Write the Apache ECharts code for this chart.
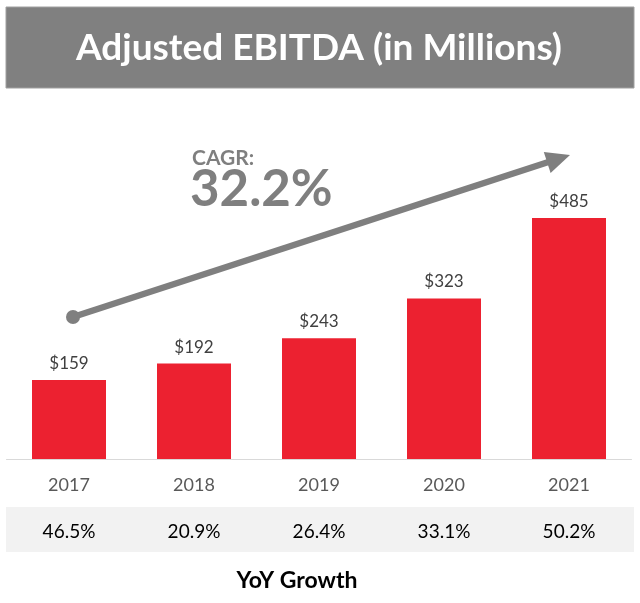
<!DOCTYPE html>
<html>
<head>
<meta charset="utf-8">
<script src="https://cdn.jsdelivr.net/npm/echarts@6/dist/echarts.min.js"></script>
<style>html,body{margin:0;padding:0;background:#fff;}#c{width:640px;height:603px;}</style>
</head>
<body>
<div id="c"></div>
<script>
var years = ['2017', '2018', '2019', '2020', '2021'];
var ebitda = [159, 192, 243, 323, 485];
var yoyGrowth = ['46.5%', '20.9%', '26.4%', '33.1%', '50.2%'];
var titleText = 'Adjusted EBITDA (in Millions)';
var cagrLabel = 'CAGR:';
var cagrValue = '32.2%';
var footerText = 'YoY Growth';

var FONT = 'Lato, "Open Sans", sans-serif';
var chart = echarts.init(document.getElementById('c'), null, {renderer: 'canvas'});

chart.setOption({
  animation: false,
  backgroundColor: '#ffffff',
  grid: {left: 6.5, right: 8.5, top: 210.5, bottom: 144, containLabel: false},
  xAxis: [
    {
      type: 'category', data: years, position: 'bottom',
      axisLine: {show: true, lineStyle: {color: '#d9d9d9', width: 1}},
      axisTick: {show: false},
      axisLabel: {color: '#595959', fontSize: 18, fontFamily: FONT, margin: 17}
    },
    {
      type: 'category', data: yoyGrowth, position: 'bottom', offset: 55,
      axisLine: {show: false}, axisTick: {show: false},
      axisLabel: {color: '#000000', fontSize: 19, fontFamily: FONT, margin: 8}
    }
  ],
  yAxis: {type: 'value', min: 0, max: 500, show: false, splitLine: {show: false}},
  series: [{
    type: 'bar', data: ebitda, barWidth: 74, xAxisIndex: 0,
    itemStyle: {color: '#ec2130'},
    label: {
      show: true, position: 'top', distance: 8, color: '#404040',
      fontSize: 17, fontFamily: FONT,
      formatter: function (p) { return '$' + p.value; }
    }
  }],
  graphic: [
    {type: 'rect', z: -10, shape: {x: 6, y: 7, width: 628, height: 81},
      style: {fill: '#808080', stroke: '#a0a0a0', lineWidth: 1}},
    {type: 'text', z: 10, x: 319, y: 48,
      style: {text: titleText, fill: '#ffffff', font: 'bold 37px ' + FONT, textAlign: 'center', textVerticalAlign: 'middle'}},
    {type: 'rect', z: -10, shape: {x: 6, y: 507, width: 628, height: 45},
      style: {fill: '#f2f2f2'}},
    {type: 'text', z: 10, x: 297, y: 581,
      style: {text: footerText, fill: '#000000', font: 'bold 23px ' + FONT, textAlign: 'center', textVerticalAlign: 'middle'}},
    {type: 'line', z: 5, shape: {x1: 73, y1: 317, x2: 550, y2: 161.5},
      style: {stroke: '#7f7f7f', lineWidth: 6.5}},
    {type: 'circle', z: 5, shape: {cx: 73, cy: 317, r: 7},
      style: {fill: '#7f7f7f'}},
    {type: 'polygon', z: 5, shape: {points: [[570, 155], [550.6, 172.9], [543.8, 151.9]]},
      style: {fill: '#7f7f7f'}},
    {type: 'text', z: 10, x: 192, y: 158,
      style: {text: cagrLabel, fill: '#7f7f7f', font: 'bold 21px ' + FONT, textAlign: 'left', textVerticalAlign: 'middle'}},
    {type: 'text', z: 10, x: 190, y: 190,
      style: {text: cagrValue, fill: '#7f7f7f', font: 'bold 51px ' + FONT, textAlign: 'left', textVerticalAlign: 'middle'}}
  ]
});
</script>
</body>
</html>
